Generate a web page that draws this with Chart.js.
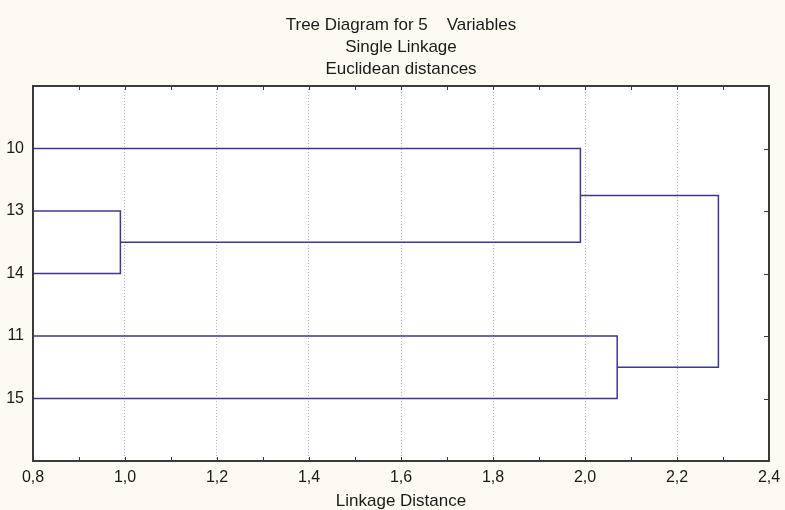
<!DOCTYPE html>
<html>
<head>
<meta charset="utf-8">
<title>Tree Diagram</title>
<script src="https://cdn.jsdelivr.net/npm/chart.js@4.4.0/dist/chart.umd.min.js"></script>
<style>
  html, body { margin: 0; padding: 0; background: #fdfbf1; }
  #wrap { width: 785px; height: 510px; }
</style>
</head>
<body>
<div id="wrap"><canvas id="graf" width="785" height="510"></canvas></div>
<script>
// leaves in the order they appear top to bottom
const leafLabels = ['10', '13', '14', '11', '15'];
// merges: cluster ids 0-4 are leaves, each merge makes a new id (5, 6, ...)
const mergeLeft = [1, 0, 3, 6];
const mergeRight = [2, 5, 4, 7];
const mergeHeight = [0.99, 1.99, 2.07, 2.29];
const xTickValues = [0.8, 1.0, 1.2, 1.4, 1.6, 1.8, 2.0, 2.2, 2.4];
const titleLines = ['Tree Diagram for 5    Variables', 'Single Linkage', 'Euclidean distances'];

const xMin = 0.8, xMax = 2.4;
const lineColor = '#3b3b8e';
const fontFam = '"Liberation Sans", Arial, sans-serif';

// positions + heights of every node
const nodeY = leafLabels.map((_, i) => i);
const nodeX = leafLabels.map(() => xMin);
const datasets = [];
for (let i = 0; i < mergeHeight.length; i++) {
    const a = mergeLeft[i], b = mergeRight[i], h = mergeHeight[i];
    datasets.push({
        data: [
            { x: nodeX[a], y: nodeY[a] },
            { x: h, y: nodeY[a] },
            { x: h, y: nodeY[b] },
            { x: nodeX[b], y: nodeY[b] }
        ],
        showLine: true,
        borderColor: lineColor,
        borderWidth: 1.5,
        pointRadius: 0,
        fill: false
    });
    nodeY.push((nodeY[a] + nodeY[b]) / 2);
    nodeX.push(h);
}

const ramecek = {
    id: 'ramecek',
    beforeDraw(chart) {
        const { ctx, chartArea: a } = chart;
        ctx.save();
        ctx.fillStyle = '#fdfbf1';
        ctx.fillRect(0, 0, chart.width, chart.height);
        ctx.fillStyle = '#ffffff';
        ctx.fillRect(a.left, a.top, a.right - a.left, a.bottom - a.top);
        ctx.restore();
    },
    afterDraw(chart) {
        const { ctx, chartArea: a, scales } = chart;
        ctx.save();
        ctx.strokeStyle = '#3a3a3a';
        ctx.lineWidth = 1;
        // small inward ticks every 0.1 on top and bottom
        for (let v = xMin + 0.1; v < xMax - 0.05; v += 0.1) {
            const px = Math.round(scales.x.getPixelForValue(v)) + 0.5;
            ctx.beginPath();
            ctx.moveTo(px, a.top); ctx.lineTo(px, a.top + 4);
            ctx.moveTo(px, a.bottom); ctx.lineTo(px, a.bottom - 4);
            ctx.stroke();
        }
        // inward ticks on the right side at each leaf
        leafLabels.forEach((_, i) => {
            const py = Math.round(scales.y.getPixelForValue(i)) + 0.5;
            ctx.beginPath();
            ctx.moveTo(a.right, py); ctx.lineTo(a.right - 5, py);
            ctx.stroke();
        });
        ctx.lineWidth = 2;
        ctx.strokeRect(a.left, a.top, a.right - a.left, a.bottom - a.top);
        ctx.restore();
    }
};

new Chart(document.getElementById('graf').getContext('2d'), {
    type: 'scatter',
    data: { datasets: datasets },
    options: {
        responsive: false,
        animation: false,
        layout: { padding: { left: 0, right: 16, top: 0, bottom: 0 } },
        plugins: {
            legend: { display: false },
            tooltip: { enabled: false },
            title: {
                display: true,
                fullSize: false,
                text: titleLines,
                color: '#1a1a1a',
                font: { family: fontFam, size: 17, weight: 'normal', lineHeight: '22px' },
                padding: { top: 14, bottom: 6 }
            }
        },
        scales: {
            x: {
                type: 'linear',
                min: xMin,
                max: xMax,
                afterBuildTicks(s) { s.ticks = xTickValues.map(v => ({ value: v })); },
                afterFit(s) { s.height = 49; s.paddingLeft = 0; s.paddingRight = 0; },
                ticks: {
                    color: '#1a1a1a',
                    font: { family: fontFam, size: 16 },
                    padding: 7,
                    maxRotation: 0,
                    callback: v => v.toFixed(1).replace('.', ',')
                },
                grid: { color: '#b4b4b4', lineWidth: 1, drawTicks: false, tickLength: 0 },
                border: { display: false, dash: [1, 2] },
                title: {
                    display: true,
                    text: 'Linkage Distance',
                    color: '#1a1a1a',
                    font: { family: fontFam, size: 17, lineHeight: 1 },
                    padding: { top: 0, bottom: 0 }
                }
            },
            y: {
                type: 'linear',
                min: -1,
                max: 5,
                reverse: true,
                afterBuildTicks(s) { s.ticks = leafLabels.map((_, i) => ({ value: i })); },
                afterFit(s) { s.width = 33; },
                ticks: {
                    color: '#1a1a1a',
                    font: { family: fontFam, size: 16 },
                    padding: 9,
                    callback: v => leafLabels[v] ?? ''
                },
                grid: { display: false, drawTicks: false },
                border: { display: false }
            }
        }
    },
    plugins: [ramecek]
});
</script>
</body>
</html>
